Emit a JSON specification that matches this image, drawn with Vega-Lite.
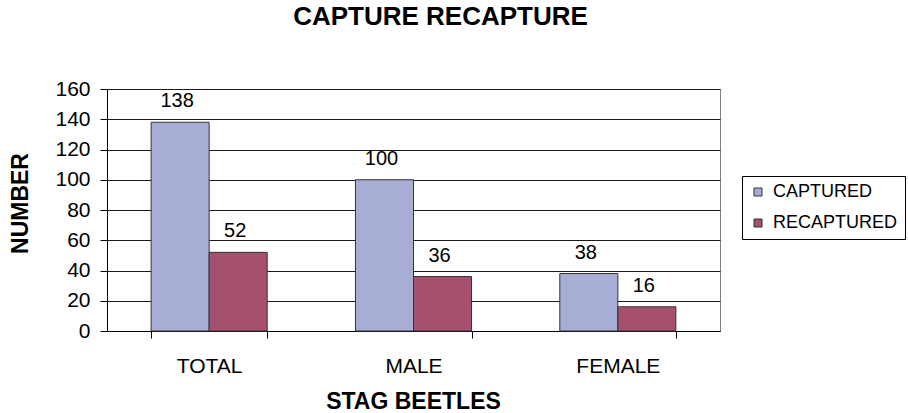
{
  "$schema": "https://vega.github.io/schema/vega-lite/v6.json",
  "width": 613,
  "height": 242,
  "autosize": {"type": "none"},
  "padding": {"left": 107, "top": 89, "right": 188, "bottom": 82},
  "background": "#ffffff",
  "title": {
    "text": "CAPTURE RECAPTURE",
    "font": "Liberation Sans",
    "fontSize": 26,
    "fontWeight": "bold",
    "color": "#000000",
    "anchor": "middle",
    "frame": "group",
    "dx": 27,
    "baseline": "alphabetic",
    "offset": 27
  },
  "data": {
    "values": [
      {"group": "TOTAL", "series": "CAPTURED", "value": 138},
      {"group": "TOTAL", "series": "RECAPTURED", "value": 52},
      {"group": "MALE", "series": "CAPTURED", "value": 100},
      {"group": "MALE", "series": "RECAPTURED", "value": 36},
      {"group": "FEMALE", "series": "CAPTURED", "value": 38},
      {"group": "FEMALE", "series": "RECAPTURED", "value": 16}
    ]
  },
  "encoding": {
    "x": {
      "field": "group",
      "type": "nominal",
      "sort": ["TOTAL", "MALE", "FEMALE"],
      "scale": {"paddingInner": 0.432, "paddingOuter": 0.216},
      "axis": {
        "title": "STAG BEETLES",
        "labelAngle": 0,
        "labelFont": "Liberation Sans",
        "labelFontSize": 21,
        "labelColor": "#000000",
        "labelBaseline": "alphabetic",
        "labelPadding": 34,
        "tickBand": "extent",
        "tickSize": 7,
        "tickColor": "#000000",
        "domainColor": "#000000",
        "grid": false,
        "titleFont": "Liberation Sans",
        "titleFontSize": 23,
        "titleFontWeight": "bold",
        "titleColor": "#000000",
        "titleBaseline": "alphabetic",
        "titleAlign": "center",
        "titleX": 306,
        "titleY": 77
      }
    },
    "xOffset": {
      "field": "series",
      "type": "nominal",
      "sort": ["CAPTURED", "RECAPTURED"],
      "scale": {"paddingInner": 0, "paddingOuter": 0}
    },
    "y": {
      "field": "value",
      "type": "quantitative",
      "scale": {"domain": [0, 160], "nice": false},
      "axis": {
        "title": "NUMBER",
        "values": [0, 20, 40, 60, 80, 100, 120, 140, 160],
        "labelFont": "Liberation Sans",
        "labelFontSize": 21,
        "labelColor": "#000000",
        "labelPadding": 10,
        "tickSize": 7,
        "tickColor": "#000000",
        "domainColor": "#000000",
        "grid": true,
        "gridColor": "#1a1a1a",
        "gridWidth": 1,
        "titleFont": "Liberation Sans",
        "titleFontSize": 23,
        "titleFontWeight": "bold",
        "titleColor": "#000000",
        "titleAngle": -90,
        "titleBaseline": "alphabetic",
        "titleAlign": "center",
        "titleX": -80,
        "titleY": 114
      }
    }
  },
  "layer": [
    {
      "mark": {"type": "bar", "stroke": "#333333", "strokeWidth": 1},
      "encoding": {
        "color": {
          "field": "series",
          "type": "nominal",
          "scale": {"domain": ["CAPTURED", "RECAPTURED"], "range": ["#a8add6", "#a5506f"]},
          "legend": {
            "title": null,
            "orient": "none",
            "legendX": 635,
            "legendY": 87,
            "strokeColor": "#000000",
            "fillColor": "#ffffff",
            "padding": 7,
            "symbolType": "square",
            "symbolSize": 64,
            "symbolStrokeColor": "#333333",
            "symbolStrokeWidth": 1,
            "symbolOpacity": 1,
            "labelFont": "Liberation Sans",
            "labelFontSize": 18,
            "labelColor": "#000000",
            "labelOffset": 6,
            "rowPadding": 13
          }
        }
      }
    },
    {
      "mark": {
        "type": "text",
        "font": "Liberation Sans",
        "fontSize": 20,
        "color": "#000000",
        "baseline": "alphabetic",
        "dy": -15,
        "dx": -3
      },
      "encoding": {
        "text": {"field": "value", "type": "quantitative"}
      }
    }
  ],
  "config": {
    "view": {"stroke": "#808080", "strokeWidth": 1}
  }
}
